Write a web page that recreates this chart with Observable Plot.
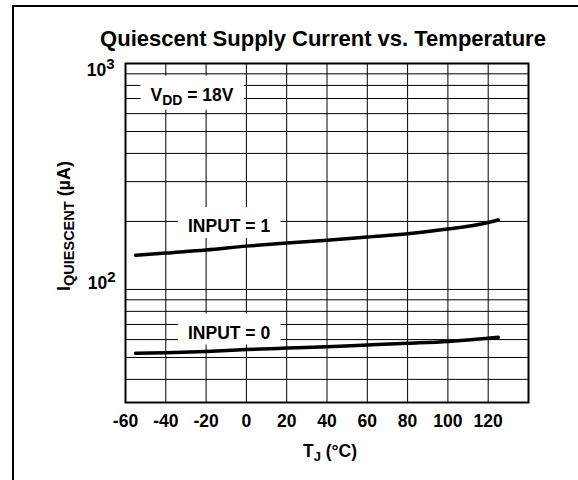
<!DOCTYPE html>
<html><head><meta charset="utf-8">
<script src="https://cdn.jsdelivr.net/npm/d3@7"></script>
<script src="https://cdn.jsdelivr.net/npm/@observablehq/plot@0.6"></script>
<style>body{margin:0;background:#fff;}</style>
</head><body>
<script>
// ---- data ----
const temps  = [-55, -40, -20, 0, 20, 40, 60, 80, 100, 120, 125];
const input1 = [141.6, 145, 149.5, 155.5, 160.5, 165, 170.7, 176.5, 185, 198, 203];
const input0 = [52.2, 52.5, 53.2, 54.2, 55, 55.8, 56.8, 57.8, 58.9, 60.8, 61.4];
const seriesNames = ["INPUT = 1", "INPUT = 0"];
const xTicks = [-60, -40, -20, 0, 20, 40, 60, 80, 100, 120];
const xGrid = [-40, -20, 0, 20, 40, 60, 80, 100, 120];
const yGrid = [40, 50, 60, 70, 80, 90, 100, 200, 300, 400, 500, 600, 700, 800, 900];
const yTickValues = [100, 1000];
const yTickLabels = ["10^{2}", "10^{3}"];
const labelTexts = ["V_{DD} = 18V", "INPUT = 1", "INPUT = 0"];
const labelT = [-27, -8.6, -8.6];
const labelI = [685, 179.6, 60.6];
const title = "Quiescent Supply Current vs. Temperature";
const xLabel = "T_{J} (°C)";
const yLabel = "I_{QUIESCENT} (µA)";

// ---- build tables ----
const series = [
  ...temps.map((t, i) => ({t, v: input1[i], s: seriesNames[0]})),
  ...temps.map((t, i) => ({t, v: input0[i], s: seriesNames[1]}))
];
const labels = labelTexts.map((text, i) => ({text, t: labelT[i], v: labelI[i]}));
const yTicks = yTickValues.map((v, i) => ({v, text: yTickLabels[i]}));

const FONT = "'Liberation Sans', Arial, Helvetica, sans-serif";
const gridStyle = {stroke: "#000", strokeOpacity: 1, strokeWidth: 1};

const svg = Plot.plot({
  width: 578, height: 480,
  marginLeft: 125, marginRight: 50, marginTop: 63, marginBottom: 78,
  style: {fontFamily: FONT, fontWeight: "bold", background: "white", color: "#000"},
  x: {domain: [-60, 140], axis: null},
  y: {type: "log", domain: [31.6, 1000], axis: null},
  marks: [
    Plot.gridX(xGrid, gridStyle),
    Plot.gridY(yGrid, gridStyle),
    Plot.line(series, {x: "t", y: "v", z: "s", stroke: "#000", strokeWidth: 3.5, curve: "monotone-x"}),
    Plot.text(labels, {x: "t", y: "v", text: "text", fontSize: 17.5, lineAnchor: "bottom", fill: "#000", className: "lbl"}),
    Plot.frame({stroke: "#000", strokeWidth: 2}),
    Plot.axisX(xTicks, {tickSize: 0, tickPadding: 11.6, fontSize: 17.5, tickFormat: d => String(d), label: null, fill: "#000"}),
    Plot.text(yTicks.filter(d => d.v === 100), {y: "v", text: "text", frameAnchor: "left", textAnchor: "end", lineAnchor: "bottom", dx: -10, fontSize: 17.5, className: "ytk"}),
    Plot.text(yTicks.filter(d => d.v === 1000), {y: "v", text: "text", frameAnchor: "left", textAnchor: "end", lineAnchor: "bottom", dx: -11, dy: 12.7, fontSize: 17.5, className: "ytk"}),
    Plot.text([title], {text: d => d, frameAnchor: "top", textAnchor: "middle", lineAnchor: "bottom", dy: -18, dx: -4, fontSize: 22}),
    Plot.text([xLabel], {text: d => d, frameAnchor: "bottom", textAnchor: "middle", lineAnchor: "bottom", dy: 54.3, dx: 3, fontSize: 17.5, className: "xlab"}),
    Plot.text([yLabel], {text: d => d, frameAnchor: "left", textAnchor: "middle", lineAnchor: "bottom", rotate: -90, dx: -56, dy: -7, fontSize: 18, className: "ylab"})
  ]
});

document.body.append(svg);

// sub/superscript rendering for labels written as X_{sub} / X^{sup}
function richify(sel, scriptSize, subShift, supShift) {
  svg.querySelectorAll(sel).forEach(el => {
    const s = el.textContent;
    const parts = [];
    const re = /([_^])\{([^}]*)\}/g;
    let last = 0, m;
    while ((m = re.exec(s))) {
      if (m.index > last) parts.push({t: s.slice(last, m.index)});
      parts.push({t: m[2], k: m[1]});
      last = re.lastIndex;
    }
    if (last < s.length) parts.push({t: s.slice(last)});
    while (el.firstChild) el.removeChild(el.firstChild);
    let off = 0;
    for (const p of parts) {
      const ts = document.createElementNS("http://www.w3.org/2000/svg", "tspan");
      const target = p.k === "_" ? subShift : p.k === "^" ? -supShift : 0;
      if (target !== off) ts.setAttribute("dy", target - off);
      off = target;
      if (p.k) ts.setAttribute("font-size", scriptSize);
      ts.textContent = p.t;
      el.appendChild(ts);
    }
  });
}
richify("g.lbl text", 14, 4, 0);
richify("g.xlab text", 13, 4, 0);
richify("g.ylab text", 14.5, 4.5, 0);
richify("g.ytk text", 15, 0, 7.5);

// white boxes behind the in-plot labels (breaking the grid)
svg.querySelectorAll("g.lbl text").forEach(el => {
  const b = el.getBBox();
  const r = document.createElementNS("http://www.w3.org/2000/svg", "rect");
  r.setAttribute("x", b.x - 10);
  r.setAttribute("y", b.y - 9);
  r.setAttribute("width", b.width + 20);
  r.setAttribute("height", b.height + 11);
  r.setAttribute("fill", "white");
  r.setAttribute("stroke", "none");
  const tr = el.getAttribute("transform");
  if (tr) r.setAttribute("transform", tr);
  el.parentNode.insertBefore(r, el);
});

// outer panel border (left and top edges)
d3.select(svg).append("path")
  .attr("d", "M13,480V6H578")
  .attr("fill", "none")
  .attr("stroke", "#000")
  .attr("stroke-width", 2);
</script>
</body></html>
